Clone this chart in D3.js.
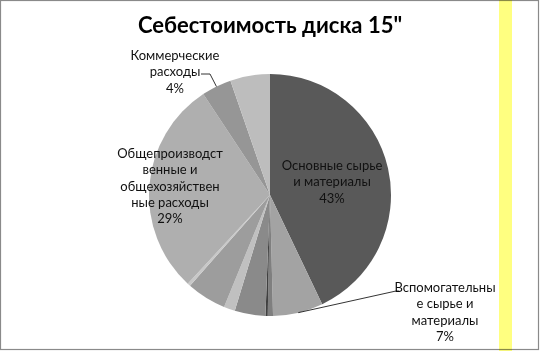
<!DOCTYPE html>
<html><head><meta charset="utf-8">
<script src="https://cdn.jsdelivr.net/npm/d3@7"></script>
<style>html,body{margin:0;padding:0;background:#fff;}svg{display:block;}</style>
</head><body>
<svg id="c" width="540" height="351"></svg>
<script>
const title = "Себестоимость диска 15\"";
const categories = [
  "Основные сырье и материалы",
  "Вспомогательные сырье и материалы",
  "Топливо и энергия",
  "Потери от брака",
  "Заработная плата",
  "Отчисления на социальные нужды",
  "Расходы на содержание оборудования",
  "Прочие производственные расходы",
  "Общепроизводственные и общехозяйственные расходы",
  "Коммерческие расходы",
  "Амортизация"
];
const values = [42.9, 6.7, 0.7, 0.3, 4.1, 1.5, 5.3, 0.4, 28.8, 4.0, 5.3];
const sliceColors = ["#595959","#a3a3a3","#7f7f7f","#404040","#8a8a8a","#c0c0c0","#9d9d9d","#c8c8c8","#afafaf","#969696","#bdbdbd"];
const labelLines = {
  0: ["Основные сырье", "и материалы"],
  1: ["Вспомогательны", "е сырье и", "материалы"],
  8: ["Общепроизводст", "венные и", "общехозяйствен", "ные расходы"],
  9: ["Коммерческие", "расходы"]
};

const svg = d3.select("#c");
const W = 540, H = 351;
const cx = 270, cy = 195, R = 121;

svg.append("rect").attr("x", 0.5).attr("y", 0.5).attr("width", 538).attr("height", 349)
  .attr("fill", "#fff").attr("stroke", "#8a8a8a").attr("stroke-width", 1.2);
svg.append("rect").attr("x", 499).attr("y", 0).attr("width", 13).attr("height", H)
  .attr("fill", "#ffff80").style("mix-blend-mode", "multiply");

svg.append("text").attr("x", 270).attr("y", 33).attr("text-anchor", "middle")
  .attr("font-family", "Lato").attr("font-weight", "bold").attr("font-size", 22)
  .attr("fill", "#000").text(title);

const data = categories.map((c, i) => ({name: c, value: values[i], i}));
const total = d3.sum(values);
const pie = d3.pie().value(d => d.value).sort(null);
const arcs = pie(data);
const arc = d3.arc().innerRadius(0).outerRadius(R);
const g = svg.append("g").attr("transform", `translate(${cx},${cy})`);
g.selectAll("path").data(arcs).join("path")
  .attr("d", arc).attr("fill", d => sliceColors[d.data.i]);

const pct = v => Math.round(v / total * 100) + "%";
const edge = d3.arc().innerRadius(R).outerRadius(R);

const labelPos = {0: [332, 170], 1: [445, 292], 8: [170, 158], 9: [175, 60]};
const lh = 16.3;
Object.keys(labelLines).forEach(k => {
  const i = +k;
  const lines = labelLines[i].concat([pct(values[i])]);
  const [x, y] = labelPos[i];
  const t = svg.append("text").attr("text-anchor", "middle")
    .attr("font-family", "Lato").attr("font-size", 13).attr("fill", "#111");
  lines.forEach((ln, j) => t.append("tspan").attr("x", x).attr("y", y + j * lh).text(ln));
});

const leader = (i, pts) => {
  const c = edge.centroid(arcs[i]);
  const p = [[cx + c[0], cy + c[1]]].concat(pts);
  svg.append("path").attr("d", d3.line()(p)).attr("fill", "none")
    .attr("stroke", "#000").attr("stroke-width", 0.8);
};
leader(9, [[210, 74], [201, 74]]);
leader(1, [[396, 291], [399, 291]]);
</script>
</body></html>
